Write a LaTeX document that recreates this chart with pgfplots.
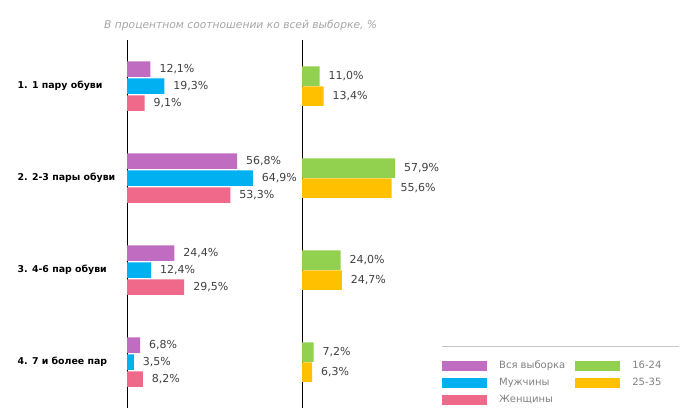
\documentclass[border=0pt]{standalone}
\usepackage{fontspec}
\setmainfont{DejaVu Sans}
\usepackage{pgfplots}
\pgfplotsset{compat=1.18}
\definecolor{cpurple}{RGB}{192,108,192}
\definecolor{cblue}{RGB}{0,176,240}
\definecolor{cpink}{RGB}{240,104,138}
\definecolor{cgreen}{RGB}{146,208,80}
\definecolor{corange}{RGB}{255,192,0}
\definecolor{vtext}{RGB}{64,64,64}
\definecolor{ltext}{RGB}{128,128,128}
\definecolor{ttext}{RGB}{166,166,166}
\definecolor{lline}{RGB}{200,200,200}
\begin{document}
\begin{tikzpicture}[x=1pt,y=1pt]
\useasboundingbox (0,0) rectangle (699,-420);
\node[anchor=west, font=\fontsize{10.7}{12}\selectfont\itshape, text=ttext, inner sep=0pt] at (104,-25) {В процентном соотношении ко всей выборке, \%};
\begin{axis}[
  at={(127pt,-40pt)}, anchor=north west,
  scale only axis, width=175pt, height=368pt,
  xmin=0, xmax=90.2, ymin=0.5, ymax=4.5, y dir=reverse,
  axis x line=none, axis y line*=left,
  y axis line style={black, line width=1pt, -},
  ytick={1,2,3,4},
  yticklabels={1. 1 пару обуви, 2. 2-3 пары обуви, 3. 4-6 пар обуви, 4. 7 и более пар},
  major tick length=0pt,
  yticklabel style={anchor=west, xshift=-113pt, font=\fontsize{9.4}{11}\selectfont\bfseries, text=black},
  xbar, bar width=15.5pt,
  nodes near coords, point meta=explicit symbolic,
  every node near coord/.append style={font=\fontsize{11}{13}\selectfont, text=vtext, anchor=west, xshift=5.5pt},
  clip=false,
]
\addplot[fill=cpurple, draw=none, bar shift=17pt] coordinates {(12.1,1) [12,1\%] (56.8,2) [56,8\%] (24.4,3) [24,4\%] (6.8,4) [6,8\%]};
\addplot[fill=cblue, draw=none, bar shift=0pt] coordinates {(19.3,1) [19,3\%] (64.9,2) [64,9\%] (12.4,3) [12,4\%] (3.5,4) [3,5\%]};
\addplot[fill=cpink, draw=none, bar shift=-17pt] coordinates {(9.1,1) [9,1\%] (53.3,2) [53,3\%] (29.5,3) [29,5\%] (8.2,4) [8,2\%]};
\end{axis}
\begin{axis}[
  at={(302pt,-40pt)}, anchor=north west,
  scale only axis, width=397pt, height=368pt,
  xmin=0, xmax=246.6, ymin=0.5, ymax=4.5, y dir=reverse,
  axis x line=none, axis y line*=left,
  y axis line style={black, line width=1pt, -},
  ytick=\empty,
  xbar, bar width=19.5pt,
  nodes near coords, point meta=explicit symbolic,
  every node near coord/.append style={font=\fontsize{11}{13}\selectfont, text=vtext, anchor=west, xshift=5.5pt},
  clip=false,
  legend style={at={(axis description cs:0.345,0.1386)}, anchor=north west, draw=none, fill=none,
    font=\fontsize{10}{12}\selectfont, text=ltext, legend columns=2, legend cell align=left,
    row sep=4pt,
    /tikz/every odd column/.append style={column sep=10pt},
    /tikz/every even column/.append style={column sep=8pt}},
  legend image code/.code={\fill[#1] (0pt,-5pt) rectangle (45pt,5pt);},
]
\addplot[fill=cgreen, draw=none, bar shift=10pt, forget plot] coordinates {(11.0,1) [11,0\%] (57.9,2) [57,9\%] (24.0,3) [24,0\%] (7.2,4) [7,2\%]};
\addplot[fill=corange, draw=none, bar shift=-10pt, forget plot] coordinates {(13.4,1) [13,4\%] (55.6,2) [55,6\%] (24.7,3) [24,7\%] (6.3,4) [6,3\%]};
\addlegendimage{fill=cpurple, draw=none}
\addlegendentry{Вся выборка}
\addlegendimage{fill=cgreen, draw=none}
\addlegendentry{16-24}
\addlegendimage{fill=cblue, draw=none}
\addlegendentry{Мужчины}
\addlegendimage{fill=corange, draw=none}
\addlegendentry{25-35}
\addlegendimage{fill=cpink, draw=none}
\addlegendentry{Женщины}
\end{axis}
\draw[lline, line width=0.8pt] (442,-346) -- (679,-346);
\end{tikzpicture}
\end{document}
